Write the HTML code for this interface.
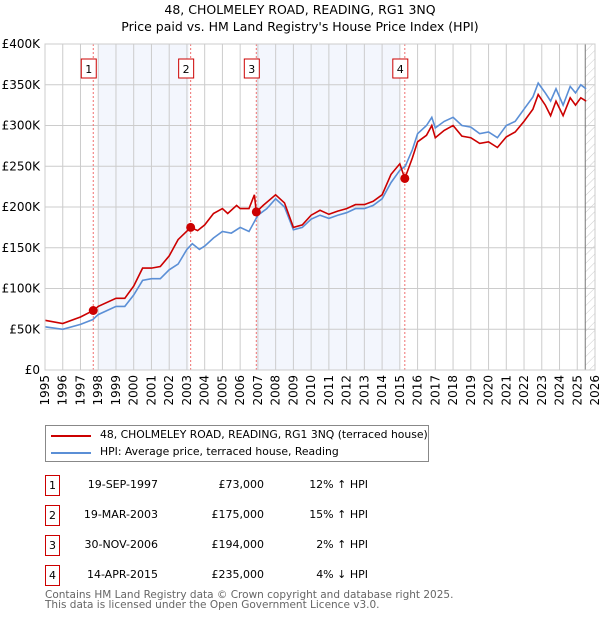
<!DOCTYPE html>
<html><head><meta charset="utf-8"><style>
body{margin:0;background:#fff;font-family:"DejaVu Sans","Liberation Sans",sans-serif;}
#wrap{position:relative;width:600px;height:620px;overflow:hidden}
.t{position:absolute;font-size:11px;color:#000;white-space:nowrap}
.box{position:absolute;width:13px;height:19px;border:1px solid #c00;font-size:11px;text-align:center;line-height:19px}
</style></head><body><div id="wrap">
<div class="t" style="left:0;width:600px;text-align:center;top:2px;font-size:12.5px">48, CHOLMELEY ROAD, READING, RG1 3NQ</div>
<div class="t" style="left:0;width:600px;text-align:center;top:19px;font-size:12.5px">Price paid vs. HM Land Registry's House Price Index (HPI)</div>
<svg id="chart" width="600" height="420" style="position:absolute;left:0;top:0"></svg>
<div style="position:absolute;left:45px;top:425px;width:382px;height:35px;border:1px solid #888">
<div style="position:absolute;left:5px;top:9px;width:40px;height:2px;background:#c00"></div>
<div class="t" style="left:54px;top:2px;font-size:10.8px">48, CHOLMELEY ROAD, READING, RG1 3NQ (terraced house)</div>
<div style="position:absolute;left:5px;top:26px;width:40px;height:2px;background:#5b8fd6"></div>
<div class="t" style="left:54px;top:19px;font-size:10.8px">HPI: Average price, terraced house, Reading</div>
</div>
<div id="tbl"></div>
<div class="t" style="left:45px;top:590px;font-size:10.5px;color:#666;line-height:10px">Contains HM Land Registry data © Crown copyright and database right 2025.<br>This data is licensed under the Open Government Licence v3.0.</div>
</div>
<script>
const hpiT=[1995,1996,1997,1997.7,1998,1999,1999.5,2000,2000.5,2001,2001.5,2002,2002.5,2003,2003.3,2003.7,2004,2004.5,2005,2005.5,2006,2006.5,2007,2007.5,2008,2008.5,2009,2009.5,2010,2010.5,2011,2011.5,2012,2012.5,2013,2013.5,2014,2014.5,2015,2015.3,2015.7,2016,2016.5,2016.8,2017,2017.5,2018,2018.5,2019,2019.5,2020,2020.5,2021,2021.5,2022,2022.5,2022.8,2023.2,2023.5,2023.8,2024.2,2024.6,2024.9,2025.2,2025.5];
const hpiV=[53,50,56,62,68,78,78,92,110,112,112,123,130,148,155,148,152,162,170,168,175,170,190,198,210,200,172,175,185,190,186,190,193,198,198,202,210,230,245,250,270,290,300,310,297,305,310,300,298,290,292,285,300,305,320,335,352,340,330,345,325,348,340,350,345];
const ppT=[1995,1996,1997,1997.72,1998,1999,1999.5,2000,2000.5,2001,2001.5,2002,2002.5,2003.21,2003.6,2004,2004.5,2005,2005.3,2005.8,2006,2006.5,2006.8,2006.91,2007.3,2008,2008.5,2009,2009.5,2010,2010.5,2011,2011.5,2012,2012.5,2013,2013.5,2014,2014.5,2015,2015.28,2015.7,2016,2016.5,2016.8,2017,2017.5,2018,2018.5,2019,2019.5,2020,2020.5,2021,2021.5,2022,2022.5,2022.8,2023.2,2023.5,2023.8,2024.2,2024.6,2024.9,2025.2,2025.5];
const ppV=[61,57,65,73,78,88,88,103,125,125,127,140,160,175,171,178,192,198,192,202,198,198,215,194,202,215,205,175,178,190,196,191,195,198,203,203,207,215,240,253,235,260,280,288,300,285,294,300,287,285,278,280,273,286,292,305,320,338,325,312,330,312,334,325,334,330];
const saleT=[1997.72,2003.21,2006.91,2015.28];
const saleV=[73,175,194,235];
const saleLbl=["1","2","3","4"];
const saleDate=["19-SEP-1997","19-MAR-2003","30-NOV-2006","14-APR-2015"];
const salePrice=["£73,000","£175,000","£194,000","£235,000"];
const saleHpi=["12% ↑ HPI","15% ↑ HPI","2% ↑ HPI","4% ↓ HPI"];
const yTicks=[0,50,100,150,200,250,300,350,400];
const yTickLbl=["£0","£50K","£100K","£150K","£200K","£250K","£300K","£350K","£400K"];
const xYears=[1995,1996,1997,1998,1999,2000,2001,2002,2003,2004,2005,2006,2007,2008,2009,2010,2011,2012,2013,2014,2015,2016,2017,2018,2019,2020,2021,2022,2023,2024,2025,2026];
const bands=[[1998,2003.1],[2006.9,2015]];
const hatchStart=2025.45;

const X0=45,X1=595,Y0=370,Y1=44;
const x=t=>X0+(t-1995)/(2026-1995)*(X1-X0);
const y=v=>Y0-v/400*(Y0-Y1);
const svg=document.getElementById('chart');const NS='http://www.w3.org/2000/svg';
function mk(tag,a,parent){const e=document.createElementNS(NS,tag);for(const k in a)e.setAttribute(k,a[k]);(parent||svg).appendChild(e);return e;}
const defs=mk('defs',{});
const pat=mk('pattern',{id:'hatch',width:6,height:6,patternUnits:'userSpaceOnUse',patternTransform:'rotate(45)'},defs);
mk('line',{x1:0,y1:0,x2:0,y2:6,stroke:'#ccc','stroke-width':1},pat);
bands.forEach(b=>{const r=mk('rect',{x:x(b[0]),y:Y1,width:x(b[1])-x(b[0]),height:Y0-Y1,fill:'#f3f6fd'});

});
const h=mk('rect',{x:x(hatchStart),y:Y1,width:X1-x(hatchStart),height:Y0-Y1,fill:'url(#hatch)'});


xYears.forEach(t=>{const l=mk('line',{x1:x(t),x2:x(t),y1:Y1,y2:Y0,stroke:'#ccc','stroke-width':1});


const tx=mk('text',{x:0,y:0,transform:`translate(${x(t)+4},375) rotate(-90)`,'text-anchor':'end','font-size':12,'font-family':'DejaVu Sans,Liberation Sans,sans-serif'});
tx.textContent=t;

});
yTicks.forEach((v,i)=>{const l=mk('line',{x1:X0,x2:X1,y1:y(v),y2:y(v),stroke:'#ccc','stroke-width':1});


const tx=mk('text',{x:40,y:y(v)+4,'text-anchor':'end','font-size':12,'font-family':'DejaVu Sans,Liberation Sans,sans-serif'});
tx.textContent=yTickLbl[i];

});
const hl=mk('line',{x1:x(hatchStart),x2:x(hatchStart),y1:Y1,y2:Y0,stroke:'#777','stroke-width':1});


saleT.forEach((t,i)=>{const l=mk('line',{x1:x(t),x2:x(t),y1:Y1,y2:Y0,stroke:'#f07070','stroke-width':1,'stroke-dasharray':'2,2'});


const r=mk('rect',{x:x(t)-12,y:59,width:15,height:19,fill:'#fff',stroke:'#c00','stroke-width':1});


const tx=mk('text',{x:x(t)-4.5,y:73,'text-anchor':'middle','font-size':11,'font-family':'DejaVu Sans,sans-serif'});
tx.textContent=saleLbl[i];

});
function path(T,V){return T.map((t,i)=>(i?'L':'M')+x(t).toFixed(1)+','+y(V[i]).toFixed(1)).join('');}
const hp=mk('path',{d:path(hpiT,hpiV),fill:'none',stroke:'#5b8fd6','stroke-width':1.6});


const pp=mk('path',{d:path(ppT,ppV),fill:'none',stroke:'#c00','stroke-width':1.6});


saleT.forEach((t,i)=>{const c=mk('circle',{cx:x(t),cy:y(saleV[i]),r:4.5,fill:'#c00'});

});
const fr=mk('rect',{x:X0,y:Y1,width:X1-X0,height:Y0-Y1,fill:'none',stroke:'#ccc'});


const tbl=document.getElementById('tbl');
saleT.forEach((t,i)=>{const top=475+i*30;
const row=document.createElement('div');


row.innerHTML=`<div class="box" style="left:45px;top:${top}px">${saleLbl[i]}</div>
<div class="t" style="left:60px;width:98px;text-align:right;top:${top+3}px">${saleDate[i]}</div>
<div class="t" style="left:170px;width:94px;text-align:right;top:${top+3}px">${salePrice[i]}</div>
<div class="t" style="left:280px;width:88px;text-align:right;top:${top+3}px">${saleHpi[i]}</div>`;
tbl.appendChild(row);});
</script></body></html>
